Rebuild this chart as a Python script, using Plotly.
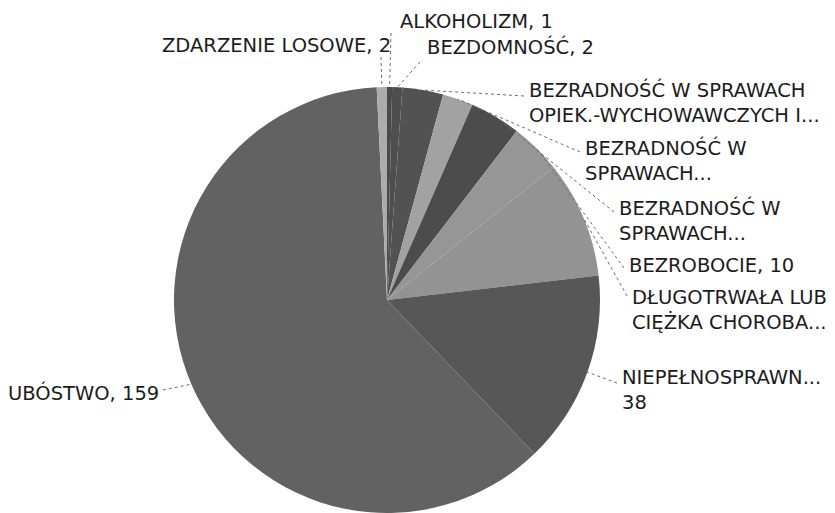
import math
import plotly.graph_objects as go

# ---- data (truncated labels' values) ----
categories = [
    "ALKOHOLIZM",
    "BEZDOMNOŚĆ",
    "BEZRADNOŚĆ W SPRAWACH OPIEK.-WYCHOWAWCZYCH I PROWADZENIA GOSPODARSTWA DOMOWEGO",
    "BEZRADNOŚĆ W SPRAWACH OPIEK.-WYCH. - RODZINA NIEPEŁNA",
    "BEZRADNOŚĆ W SPRAWACH OPIEK.-WYCH. - RODZINA WIELODZIETNA",
    "BEZROBOCIE",
    "DŁUGOTRWAŁA LUB CIĘŻKA CHOROBA",
    "NIEPEŁNOSPRAWNOŚĆ",
    "UBÓSTWO",
    "ZDARZENIE LOSOWE",
]
values = [1, 2, 8, 6, 10, 10, 23, 38, 159, 2]

# label texts as shown on the chart (truncated like the original)
label_texts = [
    "ALKOHOLIZM, 1",
    "BEZDOMNOŚĆ, 2",
    "BEZRADNOŚĆ W SPRAWACH<br>OPIEK.-WYCHOWAWCZYCH I...",
    "BEZRADNOŚĆ W<br>SPRAWACH...",
    "BEZRADNOŚĆ W<br>SPRAWACH...",
    "BEZROBOCIE, 10",
    "DŁUGOTRWAŁA LUB<br>CIĘŻKA CHOROBA...",
    "NIEPEŁNOSPRAWN...<br>38",
    "UBÓSTWO, 159",
    "ZDARZENIE LOSOWE, 2",
]

colors = ["#4a4a4a", "#4e4e4e", "#525252", "#a2a2a2", "#4c4c4c",
          "#969696", "#939393", "#575757", "#626262", "#acacac"]

# ---- layout (pixels) ----
W, H = 835, 513
CX, CY, R = 387, 300, 213

# label placement: (x px, centre y px, anchor) and leader start (x, y)
label_pos = [
    (398, 21, "left"),
    (425, 47, "left"),
    (527, 102, "left"),
    (583, 160, "left"),
    (617, 220, "left"),
    (627, 265, "left"),
    (630, 310, "left"),
    (620, 390, "left"),
    (161, 393, "right"),
    (393, 45, "right"),
]
leader_start = [
    (391, 33), (420, 62), (524, 96), (580, 152), (614, 212),
    (624, 268), (627, 296), (617, 383), (163, 390), (381, 57),
]


def px(x):
    return x / W


def py(y):
    return 1 - y / H


fig = go.Figure(go.Pie(
    labels=categories,
    values=values,
    sort=False,
    direction="clockwise",
    rotation=0,
    textinfo="none",
    hoverinfo="label+value",
    marker=dict(colors=colors, line=dict(width=0)),
    showlegend=False,
    domain=dict(x=[px(CX - R), px(CX + R)], y=[py(CY + R), py(CY - R)]),
))

total = sum(values)
annotations = []
shapes = []
cum = 0
for i, v in enumerate(values):
    mid = (cum + v / 2) / total * 2 * math.pi
    cum += v
    ex = CX + R * math.sin(mid)
    ey = CY - R * math.cos(mid)
    sx, sy = leader_start[i]
    shapes.append(dict(type="line", xref="paper", yref="paper",
                       x0=px(sx), y0=py(sy), x1=px(ex), y1=py(ey),
                       line=dict(color="#6e6e6e", width=1, dash="dot")))
    lx, ly, anchor = label_pos[i]
    annotations.append(dict(
        text=label_texts[i], x=px(lx), y=py(ly), xref="paper", yref="paper",
        xanchor=anchor, yanchor="middle", align=anchor, showarrow=False,
        font=dict(family="DejaVu Sans", size=19.5, color="#1c1c1c"),
    ))

fig.update_layout(
    width=W, height=H,
    margin=dict(l=0, r=0, t=0, b=0),
    paper_bgcolor="white",
    plot_bgcolor="white",
    annotations=annotations,
    shapes=shapes,
)

fig.write_html("out.html",
               config={"displayModeBar": False},
               post_script="document.body.style.margin='0';document.body.style.padding='0';")
